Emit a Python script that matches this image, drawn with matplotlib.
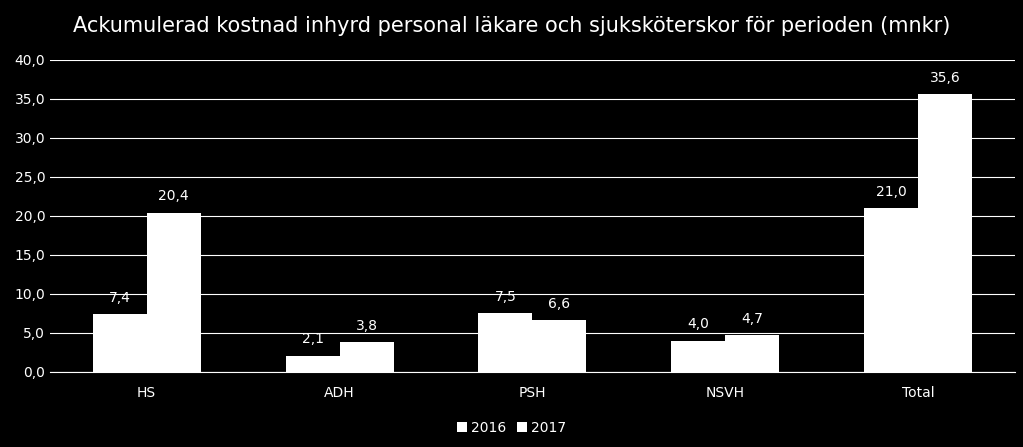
import matplotlib
matplotlib.use("Agg")
import matplotlib.pyplot as plt
import numpy as np
from matplotlib.patches import Patch

categories = ["HS", "ADH", "PSH", "NSVH", "Total"]
v2016 = [7.4, 2.1, 7.5, 4.0, 21.0]
v2017 = [20.4, 3.8, 6.6, 4.7, 35.6]
years = ["2016", "2017"]

fig = plt.figure(figsize=(10.23, 4.47), dpi=100, facecolor="black")
ax = fig.add_axes([0.049, 0.168, 0.943, 0.698], facecolor="black")
x = np.arange(len(categories))
w = 0.28
ax.bar(x - w/2, v2016, w, color="white")
ax.bar(x + w/2, v2017, w, color="white")
for xi, a, b in zip(x, v2016, v2017):
    ax.text(xi - w/2, a + 1.2, f"{a:.1f}".replace(".", ","), ha="center", va="bottom", color="white", fontsize=10)
    ax.text(xi + w/2, b + 1.2, f"{b:.1f}".replace(".", ","), ha="center", va="bottom", color="white", fontsize=10)
ax.set_xlim(-0.5, len(categories) - 0.5)
ax.set_ylim(0, 40)
ax.set_yticks(np.arange(0, 41, 5))
ax.set_yticklabels([f"{t:.1f}".replace(".", ",") for t in np.arange(0, 41, 5)])
ax.set_xticks(x)
ax.set_xticklabels(categories)
ax.tick_params(colors="white", labelsize=10, length=0)
ax.tick_params(axis="x", pad=10)
ax.grid(axis="y", color="white", linewidth=0.8)
ax.set_axisbelow(True)
for s in ["top", "right", "left"]:
    ax.spines[s].set_visible(False)
ax.spines["bottom"].set_color("white")
fig.suptitle("Ackumulerad kostnad inhyrd personal läkare och sjuksköterskor för perioden (mnkr)",
             color="white", fontsize=15, y=0.965)
handles = [Patch(facecolor="white", label=y) for y in years]
fig.legend(handles=handles, loc="lower center", bbox_to_anchor=(0.5, 0.0), ncol=2, frameon=False,
           labelcolor="white", fontsize=10, handlelength=0.7, handleheight=0.7, columnspacing=0.8, handletextpad=0.3)
fig.savefig("out.png", facecolor="black")
